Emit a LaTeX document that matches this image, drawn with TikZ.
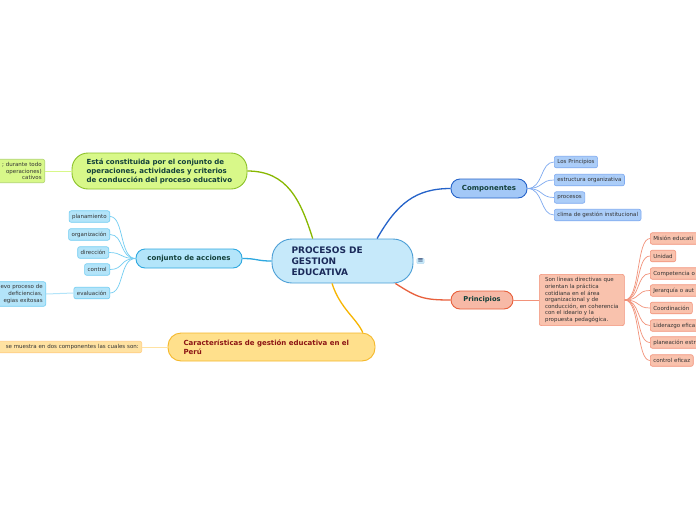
\documentclass[tikz,border=0pt]{standalone}
\usepackage{fontspec}
\setmainfont{DejaVu Sans}
\usetikzlibrary{positioning}
\definecolor{centerfill}{HTML}{C6E9FA}
\definecolor{centerdraw}{HTML}{4C9FD6}
\definecolor{navytext}{HTML}{1A2A5A}
\definecolor{topictext}{HTML}{12403A}
\definecolor{compfill}{HTML}{A3C8F7}
\definecolor{compdraw}{HTML}{2563C9}
\definecolor{compleaf}{HTML}{ABCDF8}
\definecolor{compleafdraw}{HTML}{7FAAF0}
\definecolor{princfill}{HTML}{F7B9A6}
\definecolor{princdraw}{HTML}{E8603C}
\definecolor{princleaf}{HTML}{F9C2AD}
\definecolor{princleafdraw}{HTML}{F2927A}
\definecolor{accfill}{HTML}{B3E5FA}
\definecolor{accdraw}{HTML}{2EA8E0}
\definecolor{accleaf}{HTML}{B3E4F9}
\definecolor{accleafdraw}{HTML}{72CDF2}
\definecolor{estafill}{HTML}{D8F889}
\definecolor{estadraw}{HTML}{8CC22A}
\definecolor{estaline}{HTML}{88B800}
\definecolor{carfill}{HTML}{FFE08C}
\definecolor{cardraw}{HTML}{F5B82A}
\definecolor{carline}{HTML}{F7B500}
\definecolor{carleaf}{HTML}{FFE2A2}
\definecolor{cartext}{HTML}{8B1414}

\begin{document}
\begin{tikzpicture}[x=1pt,y=-1pt,
  topic/.style={rounded corners=9pt,draw,line width=0.9pt,text=topictext,
    font=\bfseries\fontsize{7}{9}\selectfont,align=left,inner sep=2pt},
  leaf/.style={rounded corners=2pt,draw,line width=0.6pt,text=black!80,
    font=\fontsize{5.5}{6.6}\selectfont,inner xsep=3pt,inner ysep=2pt,
    minimum height=11.5pt,align=center},
  cutleaf/.style={leaf,text width=52pt,align=left,anchor=west},
  main/.style={line width=1.3pt},
  twig/.style={line width=0.7pt}]

\useasboundingbox[fill=white] (0,0) rectangle (696,520);

% centro
\node[rounded corners=20pt,draw=centerdraw,fill=centerfill,line width=0.9pt,
  minimum width=141pt,minimum height=44pt,text width=102pt,align=left,
  text=navytext,font=\bfseries\fontsize{9}{11}\selectfont] (center) at (342.5,261)
  {PROCESOS DE\\GESTION\\EDUCATIVA};
\node[rounded corners=1pt,fill=centerfill,draw=centerdraw!40,text=navytext,inner sep=0.8pt,
  font=\fontsize{7}{7}\selectfont] (menu) at (420.5,261) {≡};

% componentes
\node[topic,fill=compfill,draw=compdraw,minimum width=76pt,minimum height=19pt,
  align=center] (comp) at (489,188.5) {Componentes};
\node[leaf,fill=compleaf,draw=compleafdraw,anchor=west] (comp1) at (554,162) {Los Principios};
\node[leaf,fill=compleaf,draw=compleafdraw,anchor=west] (comp2) at (554,180) {estructura organizativa};
\node[leaf,fill=compleaf,draw=compleafdraw,anchor=west] (comp3) at (554,197.5) {procesos};
\node[leaf,fill=compleaf,draw=compleafdraw,anchor=west] (comp4) at (554,215) {clima de gestión institucional};

% principios
\node[topic,fill=princfill,draw=princdraw,minimum width=62pt,minimum height=18pt,
  align=center,font=\bfseries\fontsize{6.7}{9}\selectfont] (princ) at (482,300) {Principios};
\node[leaf,fill=princleaf,draw=princleafdraw,anchor=west,align=left,
  inner xsep=4pt,inner ysep=3pt,minimum width=85pt] (lineas) at (539,300)
  {Son líneas directivas que\\orientan la práctica\\cotidiana en el área\\organizacional y de\\conducción, en coherencia\\con el ideario y la\\propuesta pedagógica.};
\node[cutleaf,fill=princleaf,draw=princleafdraw] (p1) at (650,238.5) {Misión educati};
\node[leaf,fill=princleaf,draw=princleafdraw,anchor=west] (p2) at (650,256) {Unidad};
\node[cutleaf,fill=princleaf,draw=princleafdraw] (p3) at (650,273.5) {Competencia o};
\node[cutleaf,fill=princleaf,draw=princleafdraw] (p4) at (650,290.5) {Jerarquía o aut};
\node[leaf,fill=princleaf,draw=princleafdraw,anchor=west] (p5) at (650,308) {Coordinación};
\node[cutleaf,fill=princleaf,draw=princleafdraw] (p6) at (650,325.5) {Liderazgo efica};
\node[cutleaf,fill=princleaf,draw=princleafdraw] (p7) at (650,342.5) {planeación estr};
\node[leaf,fill=princleaf,draw=princleafdraw,anchor=west] (p8) at (650,360.5) {control eficaz};

% conjunto de acciones
\node[topic,fill=accfill,draw=accdraw,minimum width=106pt,minimum height=19pt,
  align=center] (acc) at (189,258.5) {conjunto de acciones};
\node[leaf,fill=accleaf,draw=accleafdraw,anchor=east] (a1) at (110,216.5) {planamiento};
\node[leaf,fill=accleaf,draw=accleafdraw,anchor=east] (a2) at (110,234.5) {organización};
\node[leaf,fill=accleaf,draw=accleafdraw,anchor=east] (a3) at (109,252.5) {dirección};
\node[leaf,fill=accleaf,draw=accleafdraw,anchor=east] (a4) at (110,269.5) {control};
\node[leaf,fill=accleaf,draw=accleafdraw,anchor=east] (a5) at (110,293) {evaluación};
\node[leaf,fill=accleaf,draw=accleafdraw,anchor=east,align=right,inner ysep=3pt,
  text width=60pt] (eval) at (46,294) {evo proceso de\\deficiencias,\\egias exitosas};

% esta constituida
\node[topic,fill=estafill,draw=estadraw,rounded corners=16pt,minimum width=175pt,
  minimum height=36pt,text width=146pt] (esta) at (159.5,171)
  {Está constituida por el conjunto de\\operaciones, actividades y criterios\\de conducción del proceso educativo};
\node[leaf,fill=estafill,draw=estadraw!70,anchor=east,align=right,inner ysep=3pt,
  text width=60pt] (durante) at (45,171) {; durante todo\\ operaciones)\\cativos};

% caracteristicas
\node[topic,fill=carfill,draw=cardraw,rounded corners=13pt,minimum width=207pt,
  minimum height=28pt,text width=176pt,text=cartext] (car) at (271.5,347)
  {Características de gestión educativa en el\\Perú};
\node[leaf,fill=carleaf,draw=carleaf!80!orange,anchor=east,text width=140pt,align=right]
  (muestra) at (142,347) {se muestra en dos componentes las cuales son:};

% ramas principales
\draw[main,estaline] (center.143) .. controls +(-12,-38) and +(40,0) .. (esta.east);
\draw[main,compdraw] (center.33) .. controls +(20,-35) and +(-35,0) .. (comp.west);
\draw[main,princdraw] (center.-23.5) .. controls +(22,14) and +(-28,0) .. (princ.west);
\draw[main,carline] (center.-115.5) .. controls +(8,25) and +(-6,-14) .. (car.9);
\draw[main,accdraw] (center.west) .. controls +(-15,0) and +(15,0) .. (acc.east);

% ramas secundarias
\foreach \n in {comp1,comp2,comp3,comp4}
  \draw[twig,compleafdraw] (comp.east) .. controls +(16,0) and +(-14,0) .. (\n.west);
\foreach \n in {p1,p2,p3,p4,p5,p6,p7,p8}
  \draw[twig,princleafdraw] (lineas.east) .. controls +(16,0) and +(-14,0) .. (\n.west);
\foreach \n in {a1,a2,a3,a4,a5}
  \draw[twig,accleafdraw] (acc.west) .. controls +(-16,0) and +(14,0) .. (\n.east);
\draw[twig,princleafdraw] (princ.east) -- (lineas.west);
\draw[line width=1pt,accleaf] (a5.west) -- (eval.east);
\draw[line width=1pt,estafill] (esta.west) -- (durante.east);
\draw[line width=1pt,carleaf] (car.west) -- (muestra.east);
\end{tikzpicture}
\end{document}
